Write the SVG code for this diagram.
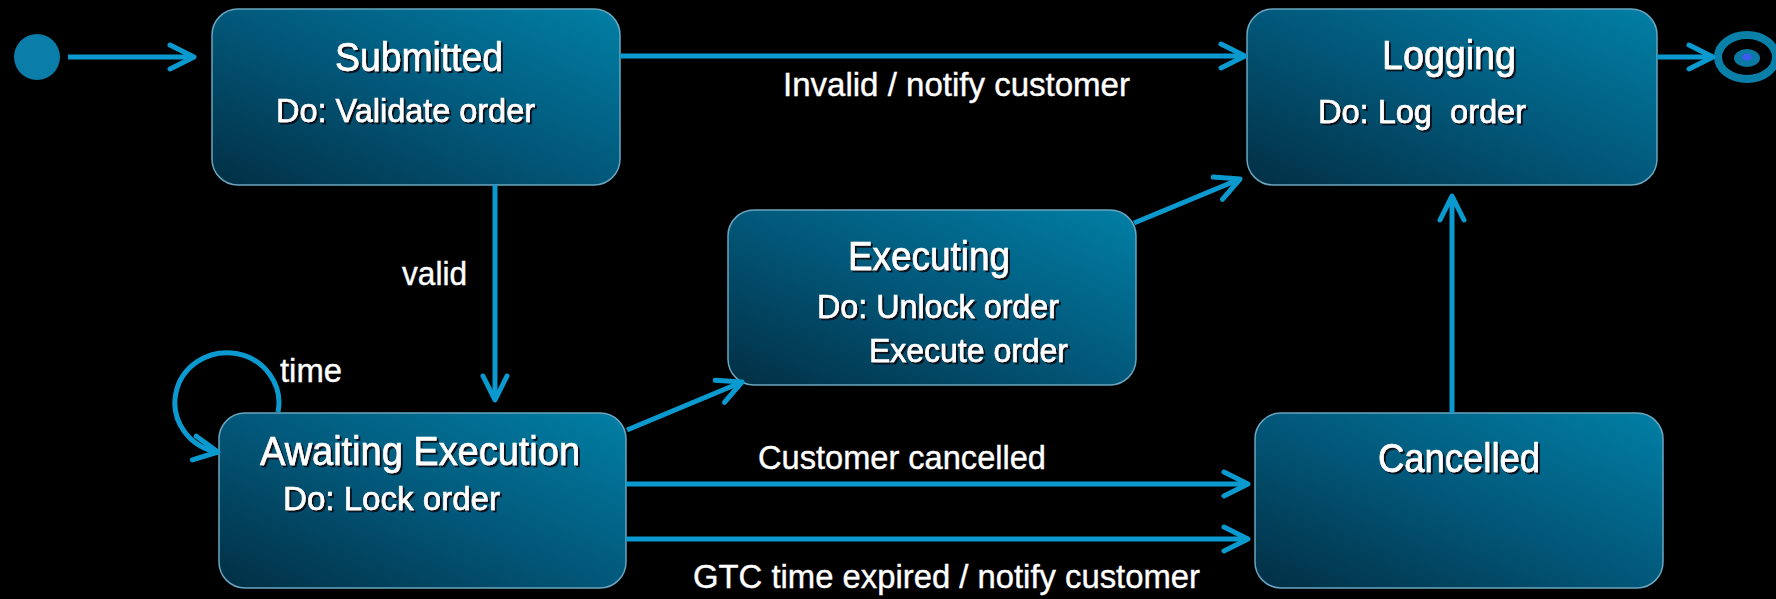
<svg xmlns="http://www.w3.org/2000/svg" width="1776" height="599" viewBox="0 0 1776 599">
  <defs>
    <linearGradient id="stateFill" x1="0" y1="1" x2="1" y2="0">
      <stop offset="0" stop-color="#022f44"/>
      <stop offset="0.5" stop-color="#02587a"/>
      <stop offset="1" stop-color="#017fa5"/>
    </linearGradient>
    <filter id="textShadow" x="-10%" y="-30%" width="120%" height="160%">
      <feDropShadow dx="2" dy="2" stdDeviation="0.4" flood-color="#0b0f12" flood-opacity="0.95"/>
    </filter>
    <marker id="arrow" markerUnits="userSpaceOnUse" viewBox="-30 -16 34 32" markerWidth="34" markerHeight="32" refX="0" refY="0" orient="auto" overflow="visible">
      <path d="M -24 -12 L 0 0 L -24 12" fill="none" stroke="#0a9ad0" stroke-width="5" stroke-linecap="round" stroke-linejoin="round"/>
    </marker>
    <style>
      .state { fill: url(#stateFill); stroke: #6aa6c0; stroke-width: 1.5; }
      .title { font-family: "Liberation Sans", Arial, sans-serif; font-size: 40px; fill: #ffffff; stroke: #ffffff; stroke-width: 0.6; filter: url(#textShadow); }
      .activity { font-family: "Liberation Sans", Arial, sans-serif; font-size: 33.5px; fill: #ffffff; stroke: #ffffff; stroke-width: 0.6; filter: url(#textShadow); }
      .label { font-family: "Liberation Sans", Arial, sans-serif; font-size: 33.5px; fill: #ffffff; stroke: #ffffff; stroke-width: 0.4; }
      .edge { fill: none; stroke: #0a9ad0; stroke-width: 5; marker-end: url(#arrow); }
    </style>
  </defs>

  <rect x="0" y="0" width="1776" height="599" fill="#000000"/>

  <!-- initial pseudo-state -->
  <g id="initial">
    <circle cx="37" cy="57" r="23" fill="#0a7ea8"/>
  </g>

  <g id="submitted">
    <rect class="state" x="212" y="9" width="408" height="176" rx="26"/>
    <text class="title" x="335" y="71" textLength="168" lengthAdjust="spacingAndGlyphs">Submitted</text>
    <text class="activity" x="276" y="122" textLength="259" lengthAdjust="spacingAndGlyphs">Do: Validate order</text>
  </g>

  <g id="logging">
    <rect class="state" x="1247" y="9" width="410" height="176" rx="26"/>
    <text class="title" x="1382" y="69" textLength="134" lengthAdjust="spacingAndGlyphs">Logging</text>
    <text class="activity" x="1318" y="123" textLength="208" lengthAdjust="spacingAndGlyphs" xml:space="preserve">Do: Log  order</text>
  </g>

  <g id="executing">
    <rect class="state" x="728" y="210" width="408" height="175" rx="26"/>
    <text class="title" x="848" y="270" textLength="162" lengthAdjust="spacingAndGlyphs">Executing</text>
    <text class="activity" x="817" y="318" textLength="242" lengthAdjust="spacingAndGlyphs">Do: Unlock order</text>
    <text class="activity" x="869" y="362" textLength="199" lengthAdjust="spacingAndGlyphs">Execute order</text>
  </g>

  <g id="awaiting-execution">
    <rect class="state" x="219" y="413" width="407" height="175" rx="26"/>
    <text class="title" x="260" y="465" textLength="320" lengthAdjust="spacingAndGlyphs">Awaiting Execution</text>
    <text class="activity" x="283" y="510" textLength="217" lengthAdjust="spacingAndGlyphs">Do: Lock order</text>
  </g>

  <g id="cancelled">
    <rect class="state" x="1255" y="413" width="408" height="175" rx="26"/>
    <text class="title" x="1378" y="472" textLength="162" lengthAdjust="spacingAndGlyphs">Cancelled</text>
  </g>

  <!-- final pseudo-state -->
  <g id="final">
    <ellipse cx="1747" cy="57" rx="29" ry="22" fill="none" stroke="#0a80a8" stroke-width="8"/>
    <ellipse cx="1747" cy="58" rx="13" ry="9" fill="#0a7aa2"/>
    <ellipse cx="1747" cy="57" rx="5" ry="3.5" fill="#3a5cf0"/>
  </g>

  <g id="transitions">
    <path class="edge" d="M 68 57 L 194 57"/>
    <path class="edge" d="M 620 56 L 1245 56"/>
    <path class="edge" d="M 495 185 L 495 400"/>
    <path class="edge" d="M 627 430 L 742 382"/>
    <path class="edge" d="M 1134 223 L 1240 179"/>
    <path class="edge" d="M 1452 413 L 1452 196"/>
    <path class="edge" d="M 626 484 L 1248 484"/>
    <path class="edge" d="M 626 539 L 1248 539"/>
    <path class="edge" d="M 1657 57 L 1713 57"/>
    <path class="edge" d="M 278 412 A 52 50 0 1 0 218 452"/>

    <text class="label" x="783" y="96" textLength="347" lengthAdjust="spacingAndGlyphs">Invalid / notify customer</text>
    <text class="label" x="402" y="285" textLength="65" lengthAdjust="spacingAndGlyphs">valid</text>
    <text class="label" x="280" y="382" textLength="62" lengthAdjust="spacingAndGlyphs">time</text>
    <text class="label" x="758" y="469" textLength="288" lengthAdjust="spacingAndGlyphs">Customer cancelled</text>
    <text class="label" x="693" y="588" textLength="507" lengthAdjust="spacingAndGlyphs">GTC time expired / notify customer</text>
  </g>
</svg>
